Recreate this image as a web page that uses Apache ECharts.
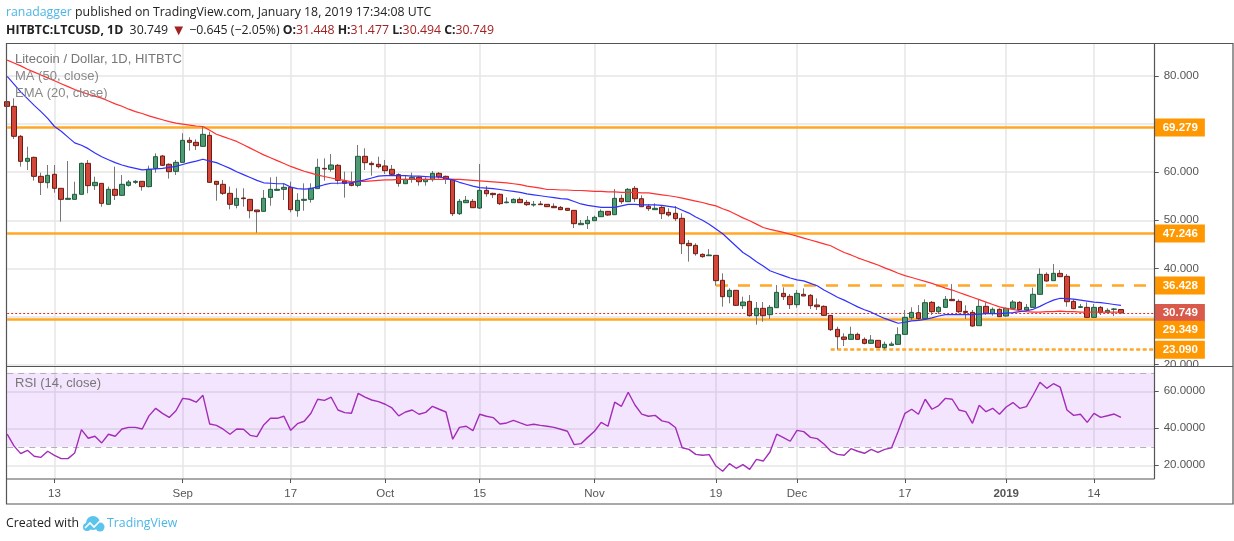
<!DOCTYPE html>
<html><head><meta charset="utf-8">
<style>html,body{margin:0;padding:0;background:#fff}#c{width:1234px;height:541px}</style>
<script src="https://cdn.jsdelivr.net/npm/echarts@6/dist/echarts.min.js"></script>
</head><body><div id="c"></div>
<script>
const opens=[74.66,73.69,67.46,62.26,63.09,59.14,57.82,59.56,56.65,54.36,
54.36,55.40,61.84,57.20,57.68,53.32,56.44,55.19,57.27,57.89,
58.10,57.00,60.80,63.37,61.64,60.18,62.05,66.62,66.21,65.38,
67.66,58.10,57.48,55.61,53.11,54.64,54.36,52.14,51.86,54.77,
56.23,56.44,56.85,52.00,54.15,54.36,56.58,60.80,60.60,61.43,
58.17,57.68,57.27,63.30,61.84,61.64,61.29,60.60,59.49,57.61,
58.51,58.93,58.03,58.45,59.76,59.14,58.51,51.38,53.66,53.94,
52.55,56.23,55.60,55.40,53.66,53.66,54.36,53.73,53.18,53.39,
53.32,52.90,52.69,52.49,52.07,49.09,49.30,49.92,50.75,51.86,
51.17,54.56,53.87,56.64,54.49,52.90,52.21,52.69,51.65,51.45,
50.41,45.21,44.79,42.92,42.64,42.71,37.52,34.12,35.44,32.25,
33.15,30.17,31.70,30.38,31.83,34.81,34.19,32.46,34.61,34.40,
32.39,32.11,30.24,27.33,25.74,25.25,26.29,25.25,24.42,25.04,
23.52,24.00,24.21,26.29,29.75,30.79,29.55,32.94,31.00,31.90,
33.57,33.15,31.07,30.86,28.09,32.11,30.66,31.49,30.10,31.70,
32.94,31.35,31.90,34.61,38.76,37.45,38.97,38.35,33.15,31.90,
31.90,29.82,31.90,30.86,31.49,31.448];
const closes=[73.69,67.46,62.26,62.88,59.14,57.89,59.35,56.65,54.36,54.57,
55.40,61.84,57.20,57.89,53.53,56.44,55.19,57.48,57.96,58.10,
57.00,60.60,63.23,61.43,60.11,62.05,66.62,66.21,65.52,67.87,
57.89,57.48,55.61,53.32,54.57,54.50,52.00,51.79,54.57,56.44,
56.44,56.85,52.21,54.15,54.36,56.65,61.01,60.67,61.50,58.31,
57.68,57.27,63.30,61.98,61.57,61.15,60.32,59.56,57.68,58.51,
58.93,58.03,58.51,59.76,59.00,58.51,51.38,53.94,54.15,52.62,
56.23,55.53,55.33,53.46,53.80,54.36,53.66,53.25,53.32,53.25,
52.83,52.62,52.21,52.07,49.30,49.37,49.99,50.61,51.86,51.10,
54.56,53.87,56.44,54.49,52.83,52.42,52.49,51.38,51.10,50.34,
45.14,44.72,43.06,42.44,42.78,37.45,34.12,35.44,32.32,33.01,
30.17,31.70,30.17,31.90,35.02,34.12,32.46,34.81,34.26,32.25,
32.04,30.24,27.26,25.80,25.25,26.29,25.25,24.42,25.11,23.59,
24.21,24.28,26.22,29.82,30.86,29.55,32.87,31.00,31.90,33.57,
33.29,31.00,30.86,28.02,32.11,30.66,31.49,29.96,31.70,33.01,
31.42,31.90,34.61,38.76,37.38,38.97,38.28,33.08,31.63,32.04,
29.82,31.90,30.86,31.28,31.56,30.749];
const highs=[76.40,75.36,67.73,65.31,63.23,59.90,61.50,61.50,56.65,62.33,
58.03,62.00,62.54,59.07,57.68,57.00,61.15,59.42,58.38,58.38,
58.10,61.36,63.92,63.58,61.84,62.54,68.08,67.25,66.83,69.47,
68.43,58.10,58.38,57.00,56.65,56.65,54.36,52.14,56.30,58.93,
59.07,57.68,58.03,55.61,57.68,57.68,62.81,62.88,63.78,61.70,
60.11,60.11,65.65,64.96,62.26,63.23,62.54,61.50,59.76,59.42,
59.90,59.21,58.93,60.25,60.04,59.28,58.51,54.43,55.05,54.43,
61.70,57.13,55.74,55.60,54.77,54.56,54.77,54.22,54.01,54.01,
53.32,53.53,52.97,52.49,52.14,50.06,50.89,50.96,52.28,51.93,
56.50,55.33,56.71,57.13,55.19,53.39,53.53,52.97,52.49,52.97,
51.45,45.90,45.21,43.13,44.03,42.71,38.97,35.85,35.51,34.12,
34.47,33.01,33.01,32.39,36.55,36.06,34.67,35.51,35.85,34.68,
33.77,32.32,30.31,27.88,26.50,27.88,26.64,25.67,26.15,25.11,
24.77,24.77,27.75,31.35,31.90,32.39,33.57,33.22,32.18,34.26,
36.75,33.57,32.32,31.35,33.43,32.94,31.90,31.70,31.83,33.43,
33.22,32.60,35.99,40.01,39.18,40.91,39.66,38.83,33.57,32.60,
32.94,32.60,32.18,31.70,31.77,31.477];
const lows=[73.69,66.90,61.15,60.46,58.24,55.26,56.65,55.74,49.72,54.36,
54.36,55.40,55.61,56.30,52.83,53.32,54.22,55.12,57.00,57.55,
56.16,56.85,59.90,61.29,58.66,59.42,62.05,64.48,64.61,65.31,
57.89,54.08,55.26,52.28,52.49,52.83,50.41,47.43,51.86,53.04,
56.16,54.22,51.66,50.76,52.00,53.67,56.58,58.24,60.11,57.48,
54.71,57.06,56.85,60.46,59.28,60.80,59.63,59.42,56.99,57.61,
57.82,57.20,57.20,58.03,58.65,57.54,50.89,51.10,53.66,52.62,
52.35,54.91,54.63,53.18,53.53,53.60,53.66,52.97,52.83,53.25,
52.76,52.62,52.14,52.00,48.40,49.09,48.19,49.85,50.75,50.89,
51.17,53.39,53.87,53.80,52.83,51.93,52.21,50.27,50.75,49.85,
43.00,41.40,42.64,42.23,42.64,36.41,32.04,32.73,32.25,31.56,
29.96,28.30,28.92,29.48,31.83,33.43,31.56,31.83,34.26,31.56,
31.35,30.10,26.98,23.17,23.86,25.25,25.25,24.21,24.35,23.52,
23.17,24.00,24.21,26.29,29.27,29.27,29.55,30.31,30.52,31.90,
33.29,30.66,29.48,27.88,28.09,30.31,30.17,29.96,29.96,31.70,
31.35,31.21,31.83,34.61,37.24,37.45,38.28,32.04,31.49,31.77,
29.82,29.82,30.31,30.66,30.10,30.494];
const ma50=[83.3,82.7,82.1,81.4,80.8,80.2,79.6,79.0,78.4,77.8,
77.2,76.7,76.2,75.8,75.4,74.8,74.2,73.7,73.1,72.6,
72.2,71.7,71.3,70.9,70.5,70.2,70.0,69.8,69.6,69.5,
68.7,67.9,67.4,66.9,66.4,65.7,65.0,64.3,63.6,63.0,
62.4,61.8,61.2,60.7,60.2,59.8,59.4,59.1,58.8,58.5,
58.3,58.0,58.1,58.1,58.2,58.3,58.4,58.4,58.5,58.5,
58.5,58.5,58.5,58.5,58.5,58.5,58.5,58.5,58.4,58.3,
58.2,58.1,58.0,57.9,57.8,57.6,57.4,57.1,56.9,56.7,
56.4,56.4,56.3,56.3,56.2,56.2,56.1,56.0,56.0,55.9,
55.9,55.8,55.8,55.8,55.7,55.7,55.5,55.3,55.1,54.9,
54.6,54.3,54.0,53.7,53.3,53.0,52.4,51.9,51.2,50.5,
49.9,49.2,48.5,48.1,47.8,47.5,47.1,46.7,46.3,45.9,
45.5,45.1,44.7,44.0,43.3,42.8,42.2,41.7,41.2,40.7,
40.1,39.6,39.0,38.5,38.1,37.7,37.3,36.9,36.4,35.9,
35.5,35.0,34.5,34.0,33.5,33.0,32.5,32.0,31.7,31.5,
31.2,31.0,30.9,30.9,31.0,31.0,31.1,31.0,31.0,30.9,
30.9,30.9,30.9,30.9,30.9,30.9];
const ema20=[79.9,78.3,76.7,75.3,73.9,72.6,71.2,69.5,68.5,67.3,
66.1,65.6,64.9,64.0,63.2,62.6,62.0,61.5,61.1,60.8,
60.5,60.6,60.7,60.8,61.0,61.2,61.6,62.0,62.3,62.7,
62.3,62.0,61.4,60.8,60.1,59.5,58.9,58.3,57.8,57.7,
57.6,57.6,56.9,56.6,56.5,56.6,57.0,57.4,57.7,57.7,
57.8,57.8,58.1,58.4,58.8,59.2,59.3,59.3,59.3,59.3,
59.2,59.2,59.1,59.0,59.0,58.7,58.4,57.9,57.5,57.1,
56.8,56.7,56.6,56.4,56.2,56.0,55.8,55.5,55.3,55.1,
54.9,54.7,54.5,54.4,53.9,53.4,53.1,52.9,52.7,52.7,
52.7,53.0,53.3,53.3,53.2,53.2,53.2,53.1,52.9,52.7,
52.1,51.5,50.7,50.0,49.2,48.2,47.2,45.9,44.6,43.3,
42.4,41.4,40.5,39.5,39.0,38.5,38.0,37.6,37.4,36.9,
36.4,35.5,34.8,34.0,33.4,32.7,32.0,31.4,30.9,30.2,
29.6,29.1,28.6,28.8,29.1,29.2,29.4,29.7,30.1,30.4,
30.4,30.4,30.4,30.4,30.5,30.6,30.6,30.6,30.7,30.8,
31.0,31.2,31.5,32.1,32.8,33.4,33.8,33.7,33.6,33.4,
33.2,33.0,32.9,32.7,32.5,32.3];
const rsi=[36.9,30.5,26.3,28.1,24.9,24.3,27.6,25.4,23.6,23.6,
26.7,39.3,34.6,35.7,32.1,36.8,35.7,39.6,40.5,40.5,
39.6,46.7,50.8,48.1,45.9,49.5,56.2,55.7,54.1,57.8,
42.3,41.6,39.5,36.8,39.6,39.5,36.2,35.5,41.8,45.4,
45.4,46.5,38.9,42.5,43.8,48.1,55.7,55.1,56.8,49.9,
48.5,48.1,58.9,56.8,55.3,54.4,53.0,51.0,46.7,48.8,
49.9,47.6,48.6,51.9,50.3,48.8,34.1,40.5,41.1,38.7,
47.6,46.5,45.8,42.3,42.9,44.3,42.9,41.6,42.2,41.6,
41.1,40.5,39.5,38.4,31.2,31.7,35.1,38.4,43.2,41.1,
54.1,51.9,59.5,52.6,47.7,46.5,47.0,44.0,43.2,40.4,
29.5,28.6,25.9,25.4,25.8,19.6,16.8,20.9,18.4,20.4,
17.8,23.2,22.3,27.2,36.8,35.0,33.0,38.9,38.2,35.1,
34.4,31.5,27.7,25.9,25.4,29.0,27.6,26.5,28.6,27.0,
28.6,29.4,38.4,48.1,50.3,47.6,55.7,50.3,52.3,56.2,
55.7,49.9,49.0,42.7,52.4,49.0,50.8,47.6,51.5,53.9,
50.8,51.7,58.0,64.9,61.6,64.1,62.2,49.9,47.0,47.6,
43.2,48.1,45.9,46.8,47.7,45.9];
const tickIndex=[7,26,42,56,70,87,105,117,133,148,161];
const tickLabels=['13','Sep','17','Oct','15','Nov','19','Dec','17','2019','14'];
const priceTicks=[20,30,40,50,60,70,80];
const priceLabels=[20,40,50,60,80];
const rsiTicks=[20,40,60];
const resistance=[69.279,47.246,29.349];
const dashedLevel=36.428, dottedLevel=23.090, lastPrice=30.749;
const startDate=Date.UTC(2018,7,6), totalSlots=171;
const categories=[];
for(let i=0;i<totalSlots;i++)categories.push(new Date(startDate+i*864e5).toISOString().slice(0,10));

const chart=echarts.init(document.getElementById('c'),null,{renderer:'canvas'});
const ORANGE='#ff9800', GRID='#e6e6e6', TXT='#555', FONT='"Liberation Sans",Arial,sans-serif', HFONT='"Open Sans",sans-serif';
const isTick=i=>tickIndex.includes(i);
const xBase=(idx)=>({type:'category',gridIndex:idx,data:categories,boundaryGap:false,
  axisLine:{show:false},
  axisTick:{show:idx===1,interval:isTick,length:4,lineStyle:{color:'#555'}},
  splitLine:{show:true,interval:isTick,lineStyle:{color:GRID,width:1.5}},
  axisLabel:{show:idx===1,interval:isTick,margin:9,color:TXT,fontFamily:FONT,fontSize:11.5,
    formatter:(v,i)=>{const k=tickIndex.indexOf(i);if(k<0)return '';const s=tickLabels[k];return s==='2019'?'{b|2019}':s;},
    rich:{b:{fontWeight:'bold',color:TXT,fontFamily:FONT,fontSize:11.5}}}});
const levelLabel=(v,bg,extra)=>Object.assign({show:true,position:'end',distance:0,color:'#fff',backgroundColor:bg,
  fontFamily:FONT,fontSize:11.5,fontWeight:'bold',padding:[3,7,3,8],formatter:v.toFixed(3)},extra||{});
const lvl=(v,from,style,label)=>[{coord:[from,v],symbol:'none',lineStyle:style,label:label},{coord:[170,v],symbol:'none'}];
const solid={color:'#ffa726',width:2.5,type:'solid',opacity:1};
chart.setOption({
  animation:false,backgroundColor:'#fff',
  grid:[{left:7.2,top:43,width:1147.5,height:323,show:false},{left:7.2,top:366.5,width:1147.5,height:112.5,show:false}],
  xAxis:[xBase(0),xBase(1)],
  yAxis:[{type:'value',gridIndex:0,position:'right',min:19.71,max:86.86,
    axisLine:{show:false},
    axisTick:{show:true,customValues:priceTicks,length:4,lineStyle:{color:'#555'}},
    splitLine:{show:true,lineStyle:{color:GRID,width:1.5}},
    axisLabel:{customValues:priceLabels,margin:9,color:TXT,fontFamily:FONT,fontSize:11.5,formatter:v=>v.toFixed(3)}},
   {type:'value',gridIndex:1,position:'right',min:12.6,max:73.4,
    axisLine:{show:false},
    axisTick:{show:true,customValues:rsiTicks,length:4,lineStyle:{color:'#555'}},
    splitLine:{show:true,lineStyle:{color:GRID,width:1.5}},
    axisLabel:{customValues:rsiTicks,margin:9,color:TXT,fontFamily:FONT,fontSize:11.5,formatter:v=>v.toFixed(4)}}],
  series:[
   {name:'wick',type:'candlestick',xAxisIndex:0,yAxisIndex:0,barWidth:1,z:3,
    itemStyle:{color:'#777',color0:'#777',borderColor:'#777',borderColor0:'#777',borderWidth:1},
    data:opens.map((o,i)=>[o,closes[i],lows[i],highs[i]])},
   {name:'Litecoin / Dollar',type:'candlestick',xAxisIndex:0,yAxisIndex:0,barWidth:5,z:4,
    itemStyle:{color:'#4f9a73',color0:'#d2473a',borderColor:'#1f5b3c',borderColor0:'#6d1c12',borderWidth:1},
    data:opens.map((o,i)=>[o,closes[i],Math.min(o,closes[i]),Math.max(o,closes[i])]),
    markLine:{silent:true,symbol:'none',animation:false,z:2,
      data:[
       lvl(lastPrice,0,{color:'#ee2222',width:1,type:[2,2]},levelLabel(lastPrice,'#d9594a')),
       lvl(resistance[0],0,solid,levelLabel(resistance[0],ORANGE)),
       lvl(resistance[1],0,solid,levelLabel(resistance[1],ORANGE)),
       lvl(resistance[2],0,solid,levelLabel(resistance[2],ORANGE,{offset:[0,10]})),
       lvl(dashedLevel,105,{color:'#ffa726',width:2.5,type:[12,10]},levelLabel(dashedLevel,ORANGE)),
       lvl(dottedLevel,122,{color:'#ffa726',width:2.5,type:[4,2.5]},levelLabel(dottedLevel,ORANGE))
      ]}},
   {name:'MA (50, close)',type:'line',xAxisIndex:0,yAxisIndex:0,data:ma50,showSymbol:false,z:5,lineStyle:{color:'#ff3030',width:1.2}},
   {name:'EMA (20, close)',type:'line',xAxisIndex:0,yAxisIndex:0,data:ema20,showSymbol:false,z:5,lineStyle:{color:'#3030ff',width:1.2}},
   {name:'RSI (14, close)',type:'line',xAxisIndex:1,yAxisIndex:1,data:rsi,showSymbol:false,z:5,lineStyle:{color:'#a32cb8',width:1.4},
    markArea:{silent:true,itemStyle:{color:'rgba(153,40,240,0.12)'},data:[[{coord:[0,70]},{coord:[170,30]}]]},
    markLine:{silent:true,symbol:'none',label:{show:false},lineStyle:{color:'#b5adb8',type:[6,5],width:1},
      data:[[{coord:[0,70]},{coord:[170,70]}],[{coord:[0,30]},{coord:[170,30]}]]}}
  ],
  graphic:[
   {type:'rect',z:50,shape:{x:1156,y:367,width:76,height:12},style:{fill:'#fff'}},
   {type:'rect',z:60,shape:{x:6.5,y:43.5,width:1226.5,height:460.5},style:{fill:'none',stroke:'#555',lineWidth:1.2}},
   {type:'line',z:60,shape:{x1:6.5,y1:366.5,x2:1233,y2:366.5},style:{stroke:'#555',lineWidth:1.2}},
   {type:'line',z:60,shape:{x1:6.5,y1:479,x2:1154.5,y2:479},style:{stroke:'#555',lineWidth:1.2}},
   {type:'line',z:60,shape:{x1:1154.5,y1:43,x2:1154.5,y2:479},style:{stroke:'#555',lineWidth:1.2}},
   {type:'text',z:61,x:6,y:6,style:{font:'12.3px '+HFONT,fill:'#222',
     text:'{u|ranadagger} published on TradingView.com, January 18, 2019 17:34:08 UTC',
     rich:{u:{fill:'#4db6e8',font:'12.3px '+HFONT}}}},
   {type:'text',z:61,x:6,y:23,style:{font:'12.3px '+HFONT,fill:'#222',
     text:'{b|HITBTC:LTCUSD, 1D}  30.749 {t|▼} −0.645 (−2.05%) {b|O:}{r|31.448} {b|H:}{r|31.477} {b|L:}{r|30.494} {b|C:}{r|30.749}',
     rich:{b:{fill:'#222',font:'bold 12.3px '+HFONT},r:{fill:'#a52020',font:'12.3px '+HFONT},t:{fill:'#a52020',font:'15px '+HFONT}}}},
   {type:'text',z:61,x:15,y:53,style:{font:'13px '+FONT,fill:'#777',text:'Litecoin / Dollar, 1D, HITBTC'}},
   {type:'text',z:61,x:15,y:70,style:{font:'13px '+FONT,fill:'#888',text:'MA (50, close)'}},
   {type:'text',z:61,x:15,y:87,style:{font:'13px '+FONT,fill:'#888',text:'EMA (20, close)'}},
   {type:'text',z:61,x:15,y:377,style:{font:'13px '+FONT,fill:'#777',text:'RSI (14, close)'}},
   {type:'text',z:61,x:6,y:517,style:{font:'12.3px '+HFONT,fill:'#222',text:'Created with'}},
   {type:'circle',z:61,shape:{cx:93,cy:523,r:7},style:{fill:'#5bc4ec'}},
   {type:'circle',z:61,shape:{cx:87,cy:527,r:4},style:{fill:'#5bc4ec'}},
   {type:'circle',z:61,shape:{cx:100,cy:527,r:4.5},style:{fill:'#5bc4ec'}},
   {type:'polyline',z:62,shape:{points:[[85,528],[90,523],[94,527],[100,521]]},style:{fill:'none',stroke:'#fff',lineWidth:1.6}},
   {type:'text',z:61,x:107,y:517,style:{font:'12.3px '+HFONT,fill:'#4db6e8',text:'TradingView'}}
  ]
});
</script></body></html>
